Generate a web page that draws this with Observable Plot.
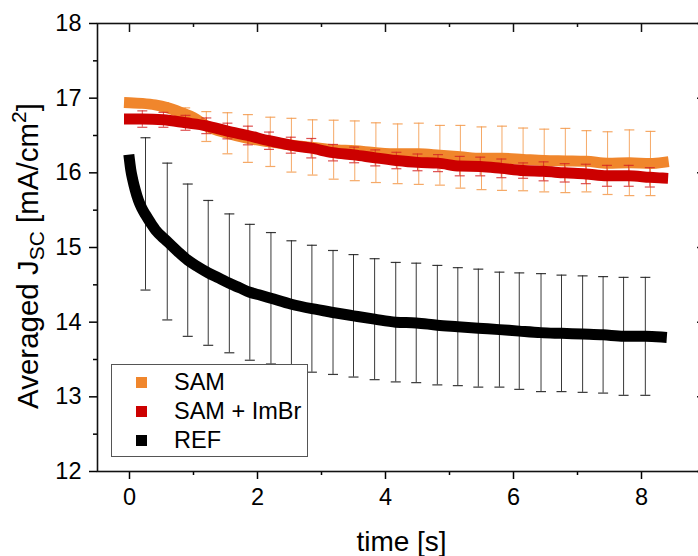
<!DOCTYPE html>
<html>
<head>
<meta charset="utf-8">
<script src="https://cdn.jsdelivr.net/npm/d3@7"></script>
<script src="https://cdn.jsdelivr.net/npm/@observablehq/plot@0.6"></script>
<style>
  html, body { margin: 0; padding: 0; background: #fff; }
  #wrap { position: relative; width: 698px; height: 556px; overflow: hidden; font-family: "Liberation Sans", Arial, sans-serif; }
  #legend { position: absolute; left: 111px; top: 364px; width: 197px; height: 93px; box-sizing: border-box;
            border: 1px solid #555; background: #fff; }
  .lrow { position: absolute; left: 0; height: 29px; line-height: 29px; font-size: 23.5px; color: #000; white-space: nowrap; }
  .lmark { position: absolute; left: 24px; top: 9px; width: 11px; height: 11px; }
  .ltext { position: absolute; left: 62px; top: 0; }
</style>
</head>
<body>
<div id="wrap"></div>
<script>
// ---------- data ----------
const seriesNames  = ["SAM", "SAM + ImBr", "REF"];
const seriesColors = ["#f0862c", "#cc0000", "#000000"];
const barColors    = ["#f39a4c", "#d42424", "#222222"];

const xTicks = [0, 2, 4, 6, 8];
const xMinor = [1, 3, 5, 7];
const yTicks = [12, 13, 14, 15, 16, 17, 18];
const yMinor = [12.5, 13.5, 14.5, 15.5, 16.5, 17.5];

const xTitle = "time [s]";
const yTitleParts = ["Averaged J", "SC", " [mA/cm", "2", "]"];

// REF (black) curve
const refLineT = [0, 0.02, 0.05, 0.09, 0.14, 0.19, 0.25, 0.33, 0.42, 0.5, 0.59, 0.75, 0.91, 1.07, 1.23, 1.4, 1.56, 1.72, 1.88, 2.05, 2.21, 2.53, 2.85, 3.18, 3.5, 3.83, 4.16, 4.48, 4.81, 5.13, 5.45, 5.78, 6.09, 6.43, 6.75, 7.08, 7.4, 7.72, 8.06, 8.31];
const refLineV = [16.17, 16.04, 15.91, 15.77, 15.63, 15.53, 15.44, 15.33, 15.22, 15.15, 15.08, 14.95, 14.83, 14.74, 14.66, 14.59, 14.52, 14.46, 14.4, 14.36, 14.32, 14.24, 14.18, 14.13, 14.085, 14.04, 14.0, 13.99, 13.96, 13.94, 13.92, 13.9, 13.88, 13.86, 13.85, 13.84, 13.83, 13.81, 13.81, 13.8];
const refBarT   = [0.25, 0.59, 0.91, 1.23, 1.56, 1.88, 2.21, 2.53, 2.85, 3.18, 3.5, 3.83, 4.16, 4.48, 4.81, 5.13, 5.45, 5.78, 6.09, 6.43, 6.75, 7.08, 7.4, 7.72, 8.06];
const refBarV   = [15.45, 15.08, 14.83, 14.66, 14.52, 14.4, 14.32, 14.24, 14.18, 14.13, 14.085, 14.04, 14.0, 13.99, 13.96, 13.94, 13.92, 13.9, 13.88, 13.86, 13.85, 13.84, 13.83, 13.81, 13.81];
const refBarErr = [1.02, 1.05, 1.02, 0.97, 0.93, 0.91, 0.88, 0.85, 0.85, 0.83, 0.82, 0.81, 0.8, 0.8, 0.8, 0.79, 0.79, 0.77, 0.78, 0.79, 0.78, 0.78, 0.78, 0.79, 0.79];

// SAM (orange) curve
const samLineT = [0, 0.2, 0.4, 0.6, 0.8, 1.0, 1.2, 1.53, 1.85, 2.2, 2.53, 2.86, 3.19, 3.52, 3.85, 4.19, 4.52, 4.85, 5.17, 5.5, 5.82, 6.15, 6.48, 6.81, 7.14, 7.47, 7.81, 8.14, 8.34];
const samLineV = [16.94, 16.93, 16.91, 16.87, 16.81, 16.74, 16.63, 16.53, 16.46, 16.415, 16.37, 16.34, 16.31, 16.295, 16.27, 16.255, 16.255, 16.235, 16.215, 16.195, 16.195, 16.18, 16.165, 16.16, 16.155, 16.13, 16.135, 16.125, 16.14];
const samBarT   = [0.21, 0.54, 0.87, 1.2, 1.53, 1.85, 2.2, 2.53, 2.86, 3.19, 3.52, 3.85, 4.19, 4.52, 4.85, 5.17, 5.5, 5.82, 6.15, 6.48, 6.81, 7.14, 7.47, 7.81, 8.14];
const samBarV   = [16.93, 16.88, 16.78, 16.62, 16.53, 16.46, 16.415, 16.37, 16.34, 16.31, 16.295, 16.27, 16.255, 16.255, 16.235, 16.215, 16.195, 16.195, 16.18, 16.165, 16.165, 16.155, 16.13, 16.135, 16.125];
const samBarErr = [0.03, 0.06, 0.09, 0.2, 0.275, 0.32, 0.33, 0.36, 0.37, 0.395, 0.4, 0.4, 0.4, 0.41, 0.4, 0.42, 0.42, 0.43, 0.42, 0.42, 0.43, 0.41, 0.42, 0.44, 0.43];

// SAM + ImBr (red) curve
const imbrLineT = [0, 0.2, 0.53, 0.875, 1.2, 1.53, 1.85, 2.18, 2.52, 2.84, 3.18, 3.51, 3.84, 4.17, 4.5, 4.82, 5.16, 5.48, 5.81, 6.15, 6.47, 6.8, 7.13, 7.46, 7.8, 8.13, 8.33];
const imbrLineV = [16.72, 16.72, 16.71, 16.67, 16.63, 16.56, 16.5, 16.43, 16.37, 16.33, 16.27, 16.24, 16.2, 16.165, 16.14, 16.13, 16.09, 16.085, 16.06, 16.03, 16.02, 16.0, 15.985, 15.96, 15.96, 15.94, 15.93];
const imbrBarT   = [0.2, 0.53, 0.875, 1.2, 1.53, 1.85, 2.18, 2.52, 2.84, 3.18, 3.51, 3.84, 4.17, 4.5, 4.82, 5.16, 5.48, 5.81, 6.15, 6.47, 6.8, 7.13, 7.46, 7.8, 8.13];
const imbrBarV   = [16.72, 16.71, 16.67, 16.63, 16.56, 16.5, 16.43, 16.37, 16.33, 16.27, 16.24, 16.2, 16.165, 16.14, 16.13, 16.09, 16.085, 16.06, 16.03, 16.02, 16.0, 15.985, 15.96, 15.96, 15.94];
const imbrBarErr = [0.11, 0.1, 0.1, 0.105, 0.105, 0.125, 0.116, 0.107, 0.13, 0.11, 0.105, 0.107, 0.11, 0.112, 0.114, 0.13, 0.125, 0.125, 0.103, 0.127, 0.123, 0.13, 0.14, 0.14, 0.13];

// ---------- build tables ----------
const lineRows = (T, V) => T.map((t, i) => ({t, v: V[i]}));
const barRows = (T, V, E) => T.map((t, i) => ({t, lo: V[i] - E[i], hi: V[i] + E[i]}));

const refLine = lineRows(refLineT, refLineV), refBars = barRows(refBarT, refBarV, refBarErr);
const samLine = lineRows(samLineT, samLineV), samBars = barRows(samBarT, samBarV, samBarErr);
const imbrLine = lineRows(imbrLineT, imbrLineV), imbrBars = barRows(imbrBarT, imbrBarV, imbrBarErr);

// horizontal error-bar cap symbol
const capSymbol = { draw(ctx) { ctx.moveTo(-5, 0); ctx.lineTo(5, 0); } };

function errorBars(rows, color, op) {
  return [
    Plot.ruleX(rows, {x: "t", y1: "lo", y2: "hi", stroke: color, strokeWidth: 1, strokeOpacity: op}),
    Plot.dot(rows, {x: "t", y: "lo", symbol: capSymbol, stroke: color, strokeWidth: 1.2, strokeOpacity: op, fill: "none"}),
    Plot.dot(rows, {x: "t", y: "hi", symbol: capSymbol, stroke: color, strokeWidth: 1.2, strokeOpacity: op, fill: "none"})
  ];
}
function curve(rows, color) {
  return Plot.line(rows, {x: "t", y: "v", stroke: color, strokeWidth: 11, strokeLinecap: "square", strokeLinejoin: "round", curve: "monotone-x"});
}

const W = 698, H = 556, mL = 97, mT = 23, mB = 85, mR = -7;
const frameW = W - mL - mR, frameH = H - mT - mB;

const plot = Plot.plot({
  width: W, height: H,
  marginLeft: mL, marginTop: mT, marginBottom: mB, marginRight: mR,
  x: {domain: [-0.5, 9]},
  y: {domain: [12, 18]},
  style: {fontFamily: "'Liberation Sans', Arial, sans-serif", color: "#000", background: "#fff", overflow: "hidden"},
  marks: [
    ...errorBars(refBars, barColors[2], 0.9),
    curve(refLine, seriesColors[2]),
    ...errorBars(samBars, barColors[0], 0.85),
    curve(samLine, seriesColors[0]),
    ...errorBars(imbrBars, barColors[1], 0.8),
    curve(imbrLine, seriesColors[1]),
    // axes
    Plot.axisY({ticks: yTicks, tickSize: 8, tickPadding: 8, fontSize: 23.5, strokeWidth: 1.5, label: null, tickFormat: d3.format("d")}),
    Plot.axisY({ticks: yMinor, tickSize: 4, tickFormat: () => "", strokeWidth: 1.5, label: null}),
    Plot.axisX({ticks: xTicks, tickSize: 8, tickPadding: 9, fontSize: 23.5, strokeWidth: 1.5, label: null, tickFormat: d3.format("d")}),
    Plot.axisX({ticks: xMinor, tickSize: 4, tickFormat: () => "", strokeWidth: 1.5, label: null}),
    // inward mirror ticks on top and right
    Plot.ruleX(xTicks, {x: d => d, insetBottom: frameH - 9, stroke: "#111", strokeWidth: 1.5}),
    Plot.ruleX(xMinor, {x: d => d, insetBottom: frameH - 4, stroke: "#111", strokeWidth: 1.5}),
    Plot.ruleY(yTicks, {y: d => d, insetLeft: frameW - 8, stroke: "#111", strokeWidth: 1.5}),
    Plot.ruleY(yMinor, {y: d => d, insetLeft: frameW - 4, stroke: "#111", strokeWidth: 1.5}),
    Plot.frame({stroke: "#111", strokeWidth: 1.6}),
    Plot.text([xTitle], {text: d => d, frameAnchor: "bottom", dy: 79, lineAnchor: "bottom", fontSize: 28})
  ]
});

const wrap = document.getElementById("wrap");
wrap.appendChild(plot);

// y-axis title with subscript / superscript
const svg = d3.select(plot);
const yt = svg.append("text")
  .attr("transform", "translate(38,256) rotate(-90)")
  .attr("text-anchor", "middle")
  .attr("fill", "#000")
  .style("font-family", "'Liberation Sans', Arial, sans-serif")
  .style("font-size", "29.5px");
yt.append("tspan").text(yTitleParts[0]);
yt.append("tspan").attr("dy", 6).style("font-size", "21px").text(yTitleParts[1]);
yt.append("tspan").attr("dy", -6).text(yTitleParts[2]);
yt.append("tspan").attr("dy", -12).style("font-size", "21px").text(yTitleParts[3]);
yt.append("tspan").attr("dy", 12).text(yTitleParts[4]);

// legend (inside plot, lower-left)
const leg = d3.select(wrap).append("div").attr("id", "legend");
seriesNames.forEach((name, i) => {
  const row = leg.append("div").attr("class", "lrow").style("top", (3 + i * 28.8) + "px");
  row.append("div").attr("class", "lmark").style("background", seriesColors[i]);
  row.append("div").attr("class", "ltext").text(name);
});
</script>
</body>
</html>
